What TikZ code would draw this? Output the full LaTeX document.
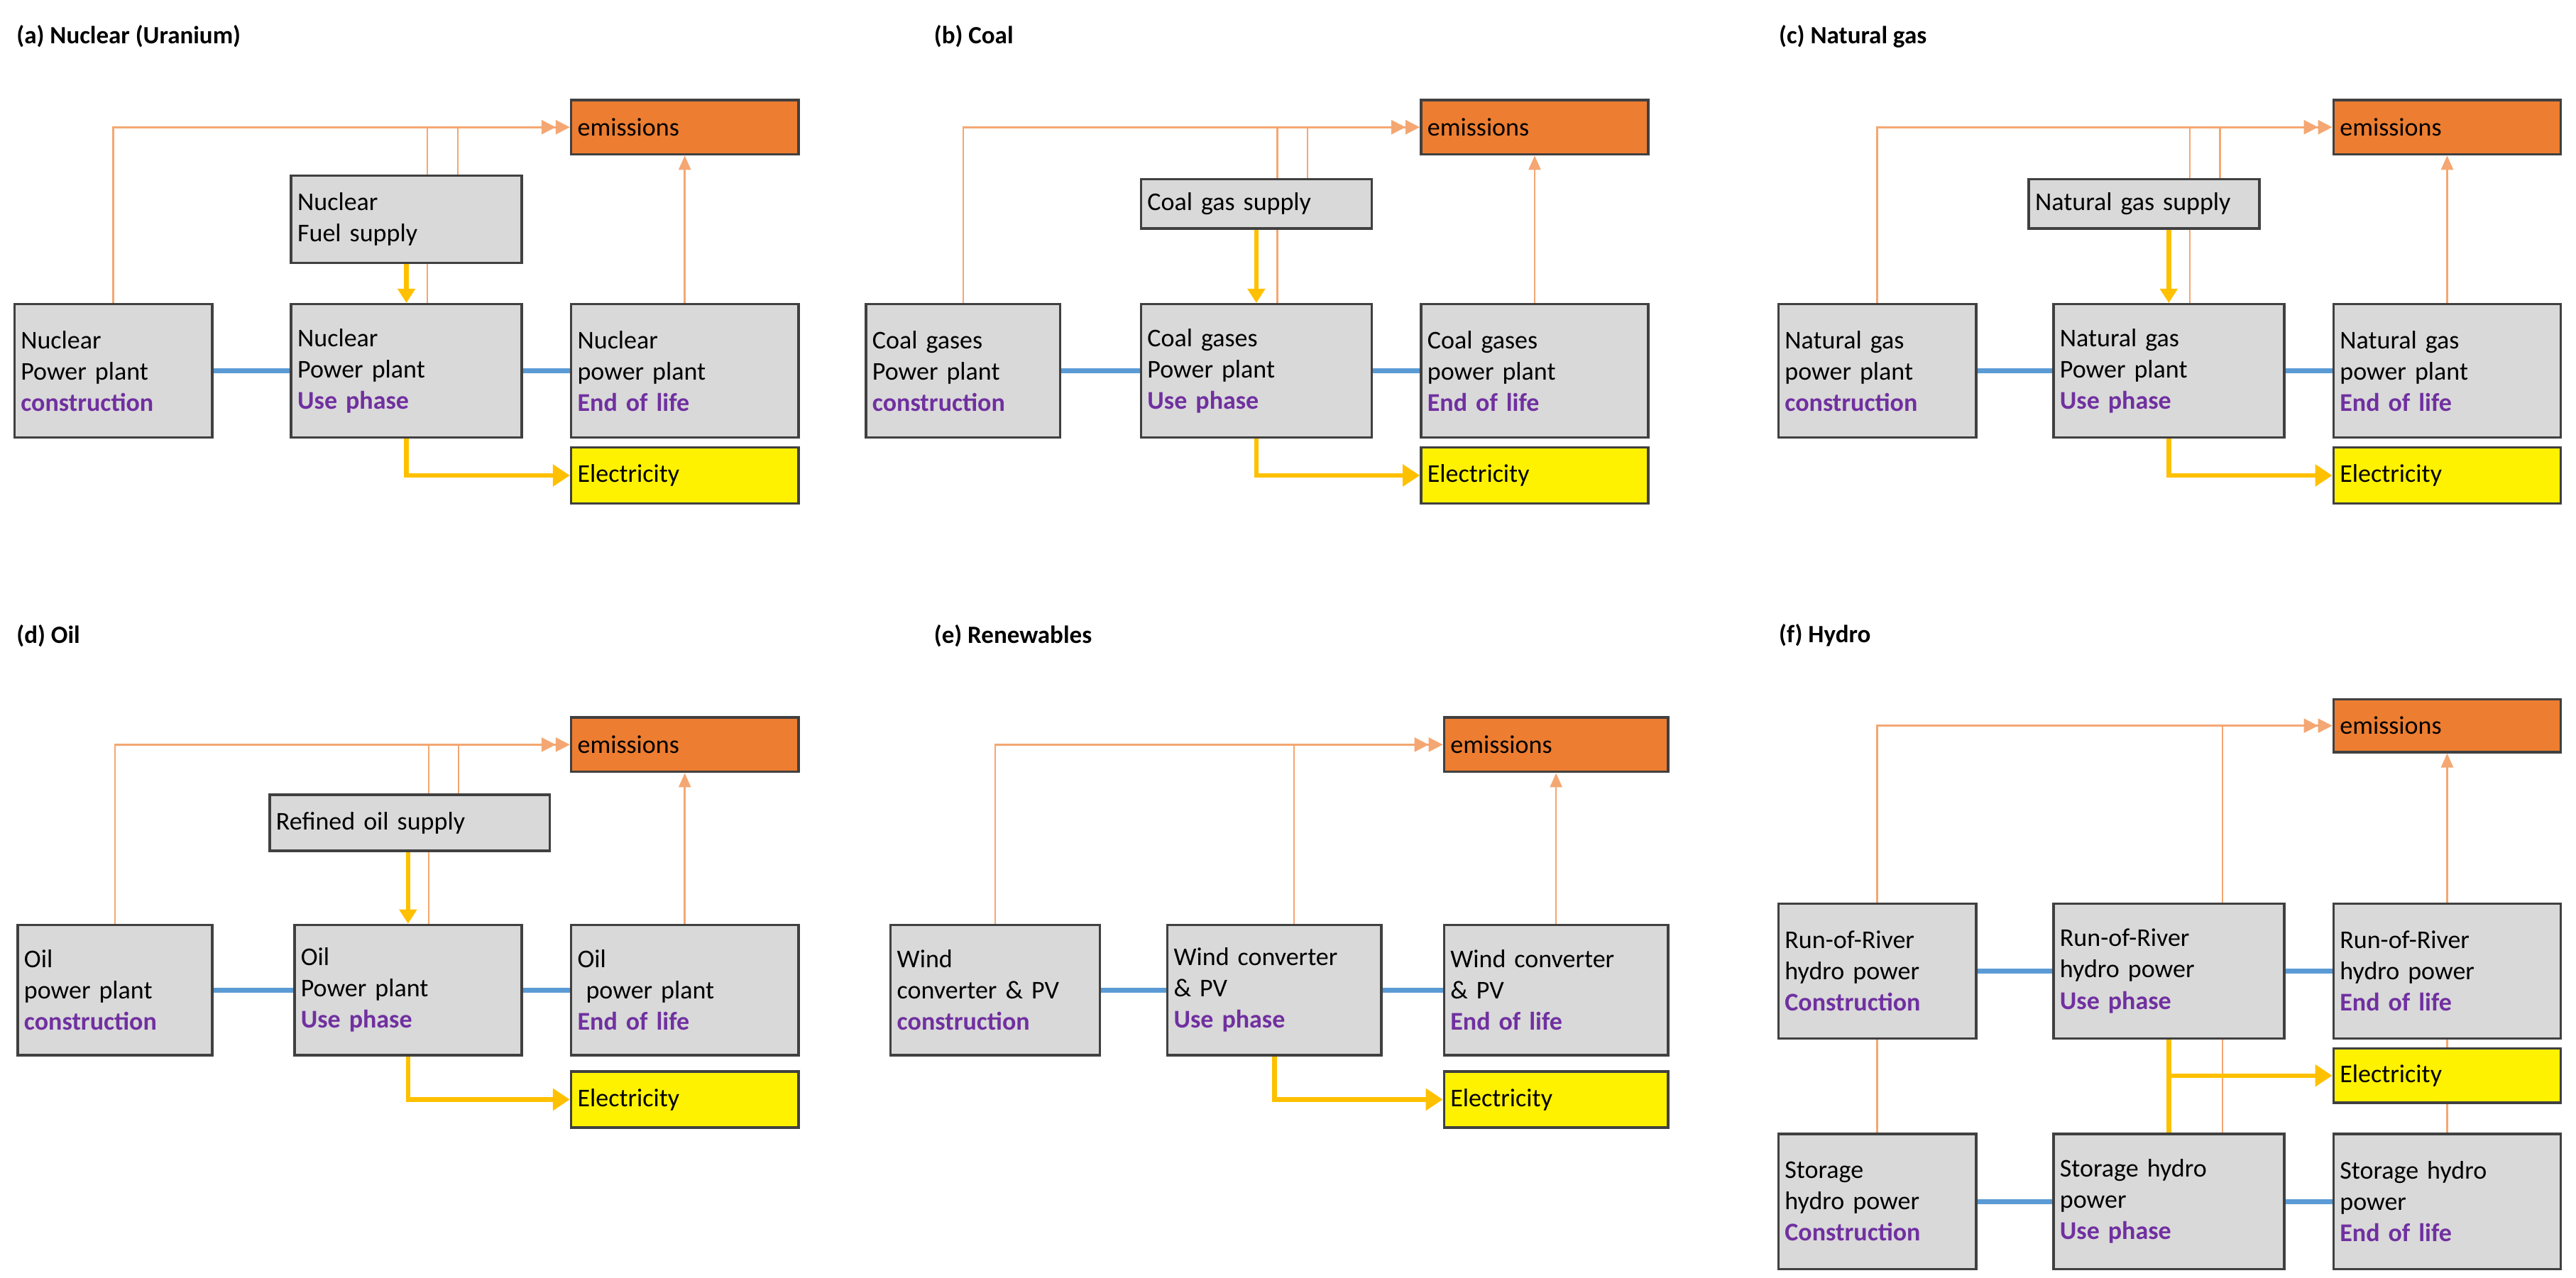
\documentclass[tikz,border=0pt]{standalone}
\usepackage{fontspec}
\setmainfont{Carlito}
\usetikzlibrary{arrows.meta,calc}
\definecolor{gbox}{HTML}{D9D9D9}
\definecolor{gbd}{HTML}{404040}
\definecolor{emif}{HTML}{ED7D31}
\definecolor{oline}{HTML}{F4A772}
\definecolor{yline}{HTML}{FFC000}
\definecolor{bline}{HTML}{5B9BD5}
\definecolor{purp}{HTML}{7030A0}
\pgfdeclarelayer{bg}\pgfsetlayers{bg,main}
\newcommand\pu[1]{\textcolor{purp}{\bfseries #1}}
\newcommand\bx[7][]{\node[box,#1,minimum width={(#5-#3)*2.32pt},minimum height={(#6-#4)*2.32pt},text width={(#5-#3)*2.32pt-18pt}] (#2) at (#3,#4) {#7};}
\tikzset{
 box/.style={draw=gbd,line width=3.5pt,fill=gbox,anchor=north west,align=left,inner xsep=9pt,inner ysep=0pt,font=\fontsize{36}{44}\selectfont},
 emi/.style={box,fill=emif},
 ele/.style={box,fill=yellow},
 ttl/.style={anchor=west,inner sep=0pt,font=\fontsize{35}{40}\selectfont\bfseries},
 ol/.style={draw=oline,line width=2.5pt,color=oline},
 yl/.style={draw=yline,color=yline,line width=6.5pt},
 bl/.style={draw=bline,line width=7pt},
 dtip/.style={-{Triangle[length=20pt,width=20pt]Triangle[length=20pt,width=20pt]}},
 stip/.style={-{Triangle[length=20pt,width=17pt]}},
 ytip/.style={-{Triangle[length=24pt,width=30pt]}},
}
\newcommand\links[1]{%
 \begin{pgfonlayer}{bg}
 \draw[bl] (#1C) -- (#1U); \draw[bl] (#1U) -- (#1E);
 \draw[ol,stip] (#1E.north) -- (#1M.south);
 \draw[yl,ytip] (#1U.south) |- (#1L.west);
 \draw[ol,dtip] (#1C.north) |- (#1M.west);
 \end{pgfonlayer}}
\newcommand\supp[1]{%
 \begin{pgfonlayer}{bg}
 \coordinate (#1p) at ($(#1U.north west)!0.59!(#1U.north east)$);
 \coordinate (#1q) at ($(#1U.north west)!0.72!(#1U.north east)$);
 \draw[ol] (#1p) -- (#1p |- #1M.west);
 \draw[ol] (#1q |- #1S.north) -- (#1q |- #1M.west);
 \draw[yl,-{Triangle[length=20pt,width=24pt]}] (#1U.north |- #1S.south) -- (#1U.north);
 \end{pgfonlayer}}
\begin{document}
\begin{tikzpicture}[x=2.32pt,y=-2.32pt]
\useasboundingbox (0,0) rectangle (1564,776);
% (a)
\node[ttl] (at) at (10,22) {(a) Nuclear (Uranium)};
\bx[emi]{aM}{346}{60}{484}{93}{emissions}
\bx{aS}{176}{106}{316}{159}{Nuclear\\Fuel supply}
\bx{aC}{8}{184}{128}{265}{Nuclear\\Power plant\\\pu{construction}}
\bx{aU}{176}{184}{316}{265}{Nuclear\\Power plant\\\pu{Use phase}}
\bx{aE}{346}{184}{484}{265}{Nuclear\\power plant\\\pu{End of life}}
\bx[ele]{aL}{346}{271}{484}{305}{Electricity}
\links{a}\supp{a}
% (b)
\node[ttl] (bt) at (567,22) {(b) Coal};
\bx[emi]{bM}{862}{60}{1000}{93}{emissions}
\bx{bS}{692}{108}{832}{138}{Coal gas supply}
\bx{bC}{525}{184}{643}{265}{Coal gases\\Power plant\\\pu{construction}}
\bx{bU}{692}{184}{832}{265}{Coal gases\\Power plant\\\pu{Use phase}}
\bx{bE}{862}{184}{1000}{265}{Coal gases\\power plant\\\pu{End of life}}
\bx[ele]{bL}{862}{271}{1000}{305}{Electricity}
\links{b}\supp{b}
% (c)
\node[ttl] (ct) at (1080,22) {(c) Natural gas};
\bx[emi]{cM}{1416}{60}{1554}{93}{emissions}
\bx{cS}{1231}{108}{1371}{138}{Natural gas supply}
\bx{cC}{1079}{184}{1199}{265}{Natural gas\\power plant\\\pu{construction}}
\bx{cU}{1246}{184}{1386}{265}{Natural gas\\Power plant\\\pu{Use phase}}
\bx{cE}{1416}{184}{1554}{265}{Natural gas\\power plant\\\pu{End of life}}
\bx[ele]{cL}{1416}{271}{1554}{305}{Electricity}
\links{c}\supp{c}
% (d)
\node[ttl] (dt) at (10,386) {(d) Oil};
\bx[emi]{dM}{346}{435}{484}{468}{emissions}
\bx{dS}{163}{482}{333}{516}{Refined oil supply}
\bx{dC}{10}{561}{128}{640}{Oil\\power plant\\\pu{construction}}
\bx{dU}{178}{561}{316}{640}{Oil\\Power plant\\\pu{Use phase}}
\bx{dE}{346}{561}{484}{640}{Oil\\\ power plant\\\pu{End of life}}
\bx[ele]{dL}{346}{650}{484}{684}{Electricity}
\links{d}\supp{d}
% (e)
\node[ttl] (et) at (567,386) {(e) Renewables};
\bx[emi]{eM}{876}{435}{1012}{468}{emissions}
\bx{eC}{540}{561}{667}{640}{Wind\\converter \& PV\\\pu{construction}}
\bx{eU}{708}{561}{838}{640}{Wind converter\\\& PV\\\pu{Use phase}}
\bx{eE}{876}{561}{1012}{640}{Wind converter\\\& PV\\\pu{End of life}}
\bx[ele]{eL}{876}{650}{1012}{684}{Electricity}
\links{e}
\begin{pgfonlayer}{bg}
\coordinate (ep) at ($(eU.north west)!0.59!(eU.north east)$);
\draw[ol] (ep) -- (ep |- eM.west);
\end{pgfonlayer}
% (f)
\node[ttl] (ft) at (1080,386) {(f) Hydro};
\bx[emi]{fM}{1416}{424}{1554}{456}{emissions}
\bx{fC}{1079}{548}{1199}{630}{Run-of-River\\hydro power\\\pu{Construction}}
\bx{fU}{1246}{548}{1386}{630}{Run-of-River\\hydro power\\\pu{Use phase}}
\bx{fE}{1416}{548}{1554}{630}{Run-of-River\\hydro power\\\pu{End of life}}
\bx[ele]{fL}{1416}{636}{1554}{669}{Electricity}
\bx{gC}{1079}{688}{1199}{770}{Storage\\hydro power\\\pu{Construction}}
\bx{gU}{1246}{688}{1386}{770}{Storage hydro\\power\\\pu{Use phase}}
\bx{gE}{1416}{688}{1554}{770}{Storage hydro\\power\\\pu{End of life}}
\begin{pgfonlayer}{bg}
\draw[bl] (fC) -- (fU); \draw[bl] (fU) -- (fE);
\draw[bl] (gC) -- (gU); \draw[bl] (gU) -- (gE);
\draw[ol,dtip] (fC.north) |- (fM.west);
\coordinate (fp) at ($(fU.north west)!0.73!(fU.north east)$);
\coordinate (gp) at ($(gU.north west)!0.73!(gU.north east)$);
\draw[ol] (fp) -- (fp |- fM.west);
\draw[ol,stip] (fE.north) -- (fM.south);
\draw[ol] (fC.south) -- (gC.north);
\draw[ol] (fp |- fU.south) -- (gp);
\draw[ol] (gE.north) -- (fE.south);
\draw[yl] (fU.south) -- (gU.north);
\draw[yl,ytip] (fU.south |- fL.west) -- (fL.west);
\end{pgfonlayer}
\end{tikzpicture}
\end{document}
